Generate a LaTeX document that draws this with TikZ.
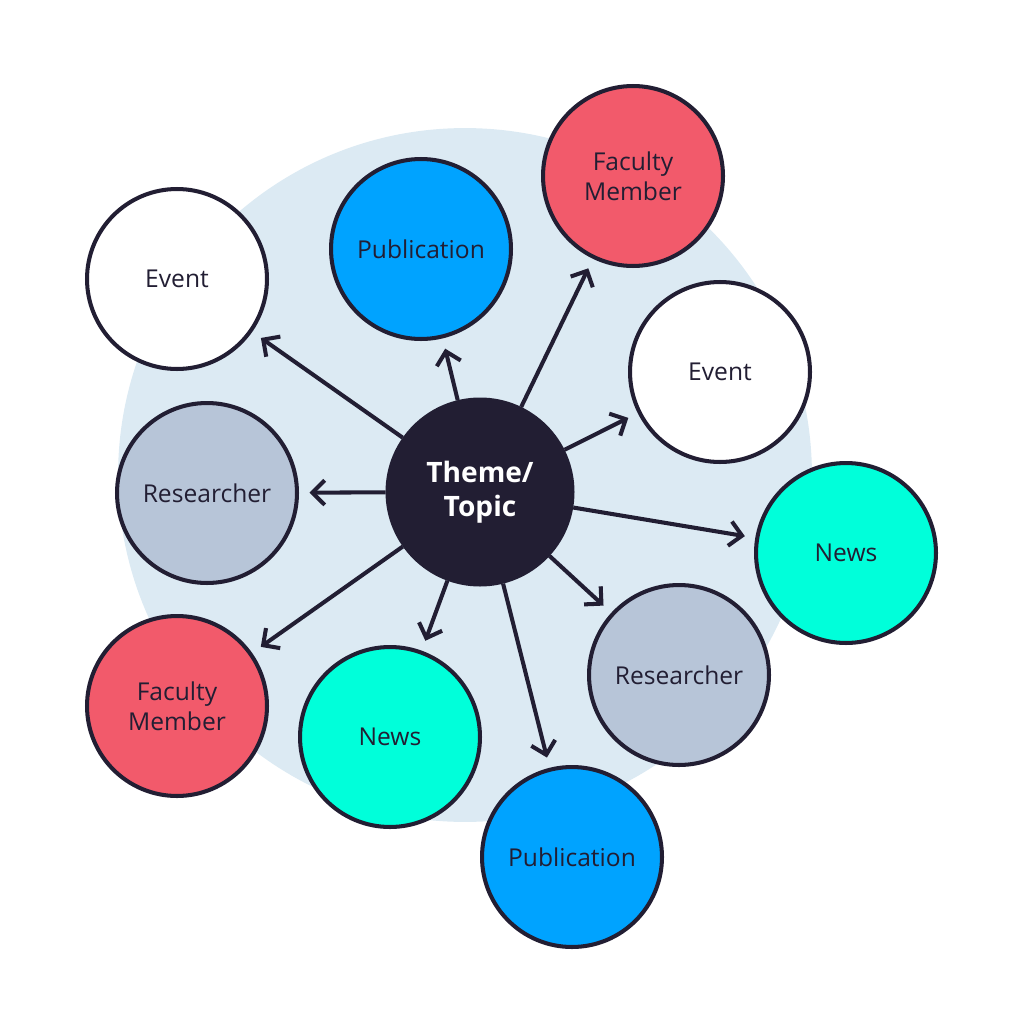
\documentclass[tikz,border=0pt]{standalone}
\usepackage{fontspec}
\setmainfont{Open Sans}
\usetikzlibrary{arrows.meta}
\definecolor{ink}{HTML}{221E33}
\definecolor{halo}{HTML}{DCEAF3}
\definecolor{pubblue}{HTML}{00A3FF}
\definecolor{facred}{HTML}{F25A6B}
\definecolor{resgray}{HTML}{B7C5D8}
\definecolor{newscyan}{HTML}{00FFDA}
\begin{document}
\begin{tikzpicture}[x=0.02cm,y=-0.02cm]
  \tikzstyle{bubble}=[circle,draw=ink,line width=2.3pt,minimum size=3.6cm,inner sep=0pt,align=center,text=ink,font=\fontsize{14}{17}\selectfont]
  \tikzstyle{link}=[draw=ink,line width=2.3pt,-{Straight Barb[length=7pt,width=14pt,line width=2.3pt]},shorten >=6pt]
  \useasboundingbox (0,0) rectangle (1024,1034);
  \fill[halo] (465,475) circle (6.94cm);
  % outer nodes
  \node[bubble,fill=white] (event1) at (177,279) {Event};
  \node[bubble,fill=pubblue] (pub1) at (421,249) {Publication};
  \node[bubble,fill=facred] (fac1) at (633,176) {Faculty\\Member};
  \node[bubble,fill=white] (event2) at (720,372) {Event};
  \node[bubble,fill=resgray] (res1) at (207,493) {Researcher};
  \node[bubble,fill=newscyan] (news1) at (846,553) {News};
  \node[bubble,fill=resgray] (res2) at (679,675) {Researcher};
  \node[bubble,fill=facred] (fac2) at (177,706) {Faculty\\Member};
  \node[bubble,fill=newscyan] (news2) at (390,737) {News};
  \node[bubble,fill=pubblue] (pub2) at (572,857) {Publication};
  % centre
  \node[bubble,fill=ink,text=white,minimum size=3.7cm,font=\bfseries\fontsize{16}{19}\selectfont] (theme) at (480,492) {Theme/\\Topic};
  % arrows
  \foreach \t in {event1,pub1,fac1,event2,res1,news1,res2,fac2,news2,pub2}
    \draw[link] (theme) -- (\t);
\end{tikzpicture}
\end{document}
